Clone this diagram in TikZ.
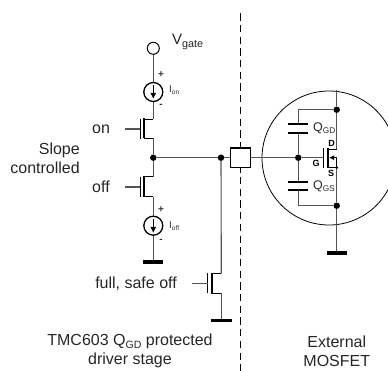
\documentclass[tikz,border=0pt]{standalone}
\usepackage{fontspec}
\setmainfont{Liberation Sans}
\usetikzlibrary{arrows.meta}
\definecolor{wire}{gray}{0.33}
\tikzset{
  x=1pt,y=-1pt,
  wirel/.style={draw=wire,line width=1.1pt},
  thinl/.style={draw=black,line width=0.9pt},
  dotn/.style={circle,fill=black,inner sep=0pt,minimum size=6.5pt},
  plate/.style={draw=black,line width=2.2pt},
  gnd/.style={draw=black,line width=3.2pt},
  srcn/.style={circle,draw=black,line width=1.3pt,minimum size=19pt,inner sep=0pt},
  srcarrow/.style={-{Latex[length=6pt,width=6pt]},black,line width=1pt},
  lab/.style={inner sep=0pt,font=\fontsize{16}{19}\selectfont,align=center,text=black!85},
  tiny/.style={inner sep=0pt,font=\fontsize{10}{12}\selectfont,text=black!80},
  bold/.style={inner sep=0pt,font=\fontsize{9}{10}\selectfont\bfseries},
}
\newcommand{\subt}[1]{\raisebox{-0.35ex}{\scalebox{0.66}{#1}}}
\begin{document}
\begin{tikzpicture}
\useasboundingbox (0,0) rectangle (388,371);
\begin{scope}
\clip (0,0) rectangle (388,371);
\draw[line width=0.8pt,black] (329,158) circle (67);
\end{scope}
\draw[black,line width=0.9pt,dash pattern=on 7.3pt off 4.4pt] (240.3,13.3) -- (240.3,371);

% upper branch
\node[circle,draw=black,line width=1pt,fill=white,minimum size=12pt,inner sep=0pt] (vg) at (153.3,48.3) {};
\node[srcn] (ion) at (153.3,92) {};
\node[dotn] (mid) at (153.3,157.7) {};
\coordinate (d1) at (153.3,119);
\coordinate (s1) at (153.3,138);
\draw[wirel] (vg) -- (ion);
\draw[wirel] (ion) -- (d1);
\draw[wirel] (s1) -- (mid);
\draw[thinl] (d1) -- (144,119) (s1) -- (144,138);
\draw[plate] (144,118.5) -- (144,138.5);
\draw[thinl] (140,119) -- (140,139);
\coordinate (g1) at (125,129);
\draw[wirel] (g1) -- (140,129);
\draw[srcarrow] (153.3,85) -- (153.3,99);

% lower branch
\node[srcn] (ioff) at (153.3,225.7) {};
\coordinate (d2) at (153.3,176.7);
\coordinate (s2) at (153.3,196.7);
\coordinate (g2) at (125,187);
\coordinate (gb2) at (153.3,262);
\draw[wirel] (mid) -- (d2);
\draw[wirel] (s2) -- (ioff);
\draw[wirel] (ioff) -- (gb2);
\draw[thinl] (d2) -- (144,176.7) (s2) -- (144,196.7);
\draw[plate] (144,176.2) -- (144,197.2);
\draw[thinl] (140,177) -- (140,197);
\draw[wirel] (g2) -- (140,187);
\draw[srcarrow] (153.3,219) -- (153.3,233);
\draw[gnd] (143,262) -- (163,262);

% node and box
\node[dotn] (n2) at (221,157.7) {};
\node[draw=black,line width=1.3pt,fill=white,minimum size=19.5pt,inner sep=0pt] (box) at (240.5,157.7) {};
\node[dotn] (ng) at (298.3,157.7) {};
\draw[wirel] (mid) -- (n2);
\draw[wirel] (n2) -- (box);
\draw[wirel] (box) -- (ng);
\draw[wirel] (ng) -- (318,157.7);

% third transistor
\coordinate (d3) at (221.3,273.5);
\coordinate (s3) at (221.3,293);
\draw[wirel] (n2) -- (d3);
\draw[wirel] (s3) -- (221.3,320.3);
\draw[thinl] (d3) -- (212,273.5) (s3) -- (212,293);
\draw[plate] (212,273) -- (212,293.5);
\draw[thinl] (207.7,273.3) -- (207.7,293);
\draw[wirel] (192,283.3) -- (207.7,283.3);
\draw[gnd] (210.7,320.3) -- (231.7,320.3);

% external MOSFET
\node[dotn] (nd) at (336.7,109.7) {};
\node[dotn] (ns) at (336.7,205.7) {};
\coordinate (dx) at (336.7,149);
\coordinate (sx) at (336.7,167.7);
\draw[wirel] (336.7,90) -- (nd);
\draw[wirel] (nd) -- (dx);
\draw[wirel] (sx) -- (ns);
\draw[wirel] (ns) -- (336.7,253);
\draw[thinl] (dx) -- (328,149) (sx) -- (328,167.7);
\draw[plate] (328,148) -- (328,168.5);
\draw[thinl] (323,148) -- (323,168);
\draw[wirel] (318,157.7) -- (323,157.7);
\draw[thinl] (336.7,157.7) -- (336.7,167.7);
\draw[-{Latex[length=5pt,width=5pt]},black,line width=1pt] (336.7,157.7) -- (329,157.7);
\fill[black] (337,167.7) circle (1.2);
\draw[gnd] (327,253) -- (347,253);

% capacitors
\draw[wirel] (nd) -- (298.3,109.7) -- (298.3,124);
\draw[wirel] (298.3,133) -- (ng);
\draw[wirel] (ng) -- (298.3,182.3);
\draw[wirel] (298.3,190) -- (298.3,205.7) -- (ns);
\draw[gnd,line width=2.4pt] (288,124) -- (308,124);
\draw[gnd,line width=2.4pt] (288,133) -- (308,133);
\draw[gnd,line width=2.4pt] (288,182.3) -- (308,182.3);
\draw[gnd,line width=2.4pt] (288,190) -- (308,190);

% labels
\node[lab,anchor=west,font=\fontsize{15}{17}\selectfont] (tv) at (172,42) {V\raisebox{-0.35ex}{\scalebox{0.72}{gate}}};
\node[tiny,font=\fontsize{10}{12}\selectfont\bfseries] (tp1) at (161,74.5) {+};
\node[tiny,font=\fontsize{10}{12}\selectfont\bfseries] (tm1) at (161,106) {-};
\node[tiny,anchor=west] (tion) at (169,90) {I\subt{on}};
\node[tiny,font=\fontsize{10}{12}\selectfont\bfseries] (tp2) at (161,210) {+};
\node[tiny,font=\fontsize{10}{12}\selectfont\bfseries] (tm2) at (161,240.5) {-};
\node[tiny,anchor=west] (tioff) at (169,226) {I\subt{off}};
\node[lab,anchor=west] (ton) at (92,129) {on};
\node[lab,anchor=west] (toff) at (92,187) {off};
\node[lab,align=right,anchor=east] (tslope) at (80,158) {Slope\\controlled};
\node[lab,anchor=east] (tfull) at (177,284) {full, safe off};
\node[lab] (ttmc) at (130,351) {TMC603 Q\subt{GD} protected\\driver stage};
\node[lab] (text) at (336.8,351) {External\\MOSFET};
\node[lab,anchor=west,font=\fontsize{12.5}{14}\selectfont] (tqgd) at (313,128) {Q\subt{GD}};
\node[lab,anchor=west,font=\fontsize{12.5}{14}\selectfont] (tqgs) at (313,186) {Q\subt{GS}};
\node[bold] (td) at (331.7,143) {D};
\node[bold] (tg) at (316,163) {G};
\node[bold] (ts) at (331,173) {S};
\end{tikzpicture}
\end{document}
